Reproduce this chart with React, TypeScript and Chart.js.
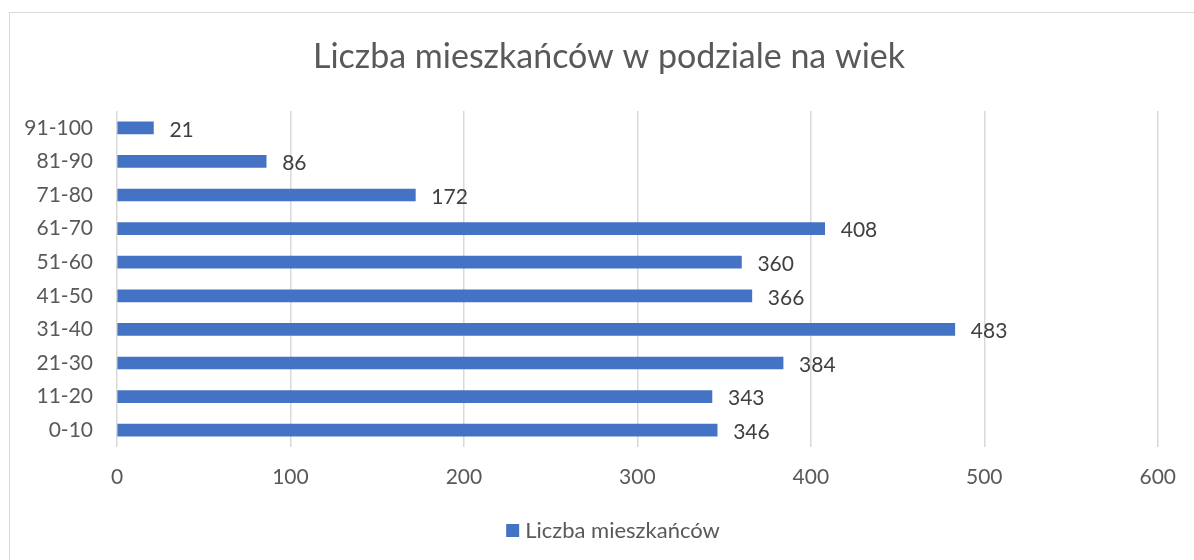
import React, { useEffect, useRef } from "react";
import { Chart, registerables } from "chart.js";

Chart.register(...registerables);

const TITLE = "Liczba mieszkańców w podziale na wiek";
const SERIES_NAME = "Liczba mieszkańców";
const AGE_GROUPS = ["0-10", "11-20", "21-30", "31-40", "41-50", "51-60", "61-70", "71-80", "81-90", "91-100"];
const RESIDENTS = [346, 343, 384, 483, 366, 360, 408, 172, 86, 21];
const X_MAX = 600;
const X_STEP = 100;

const FONT = "Lato, 'Open Sans', sans-serif";
const BAR_COLOR = "#4472C4";
const TEXT_GRAY = "#595959";
const LABEL_DARK = "#404040";

export default function App() {
  const ref = useRef<HTMLCanvasElement | null>(null);

  useEffect(() => {
    const canvas = ref.current;
    if (!canvas) return;

    const decorPlugin = {
      id: "decor",
      afterDatasetsDraw(chart: any) {
        const ctx = chart.ctx;
        const meta = chart.getDatasetMeta(0);
        ctx.save();
        ctx.font = `21px ${FONT}`;
        ctx.fillStyle = LABEL_DARK;
        ctx.textAlign = "left";
        ctx.textBaseline = "middle";
        meta.data.forEach((bar: any, i: number) => {
          ctx.fillText(String(RESIDENTS[i]), bar.x + 16, bar.y + 2);
        });
        ctx.restore();
      },
      afterDraw(chart: any) {
        const ctx = chart.ctx;
        ctx.save();
        // title
        ctx.font = `34px ${FONT}`;
        ctx.fillStyle = TEXT_GRAY;
        ctx.textAlign = "center";
        ctx.textBaseline = "middle";
        ctx.fillText(TITLE, 609, 57);
        // legend
        ctx.font = `22px ${FONT}`;
        const tw = ctx.measureText(SERIES_NAME).width;
        const box = 13;
        const gap = 6;
        const total = box + gap + tw;
        const x0 = 613 - total / 2;
        ctx.fillStyle = BAR_COLOR;
        ctx.fillRect(x0, 524, box, box);
        ctx.fillStyle = TEXT_GRAY;
        ctx.textAlign = "left";
        ctx.fillText(SERIES_NAME, x0 + box + gap, 531);
        ctx.restore();
      },
    };

    const chart = new Chart(canvas, {
      type: "bar",
      data: {
        labels: AGE_GROUPS,
        datasets: [
          {
            label: SERIES_NAME,
            data: RESIDENTS,
            backgroundColor: BAR_COLOR,
            barThickness: 12,
          },
        ],
      },
      options: {
        indexAxis: "y",
        animation: false,
        responsive: false,
        maintainAspectRatio: false,
        layout: { padding: { left: 0, top: 111, right: 34, bottom: 0 } },
        plugins: {
          legend: { display: false },
          title: { display: false },
          tooltip: { enabled: false },
        },
        scales: {
          x: {
            min: 0,
            max: X_MAX,
            ticks: {
              stepSize: X_STEP,
              color: TEXT_GRAY,
              font: { family: FONT, size: 21 },
              padding: 18,
              maxRotation: 0,
            },
            grid: { color: "#d9d9d9", lineWidth: 1.5, drawTicks: false },
            border: { display: false },
            afterFit(scale: any) {
              scale.height = 113;
            },
          },
          y: {
            reverse: true,
            ticks: {
              color: TEXT_GRAY,
              font: { family: FONT, size: 21 },
              padding: 24,
            },
            grid: { display: false, drawTicks: false },
            border: { display: false },
            afterFit(scale: any) {
              scale.width = 117;
            },
          },
        },
      },
      plugins: [decorPlugin],
    } as any);

    return () => chart.destroy();
  }, []);

  return (
    <div style={{ position: "fixed", left: 0, top: 0, width: 1194, height: 560, overflow: "hidden", background: "#fff" }}>
      <div
        style={{
          position: "absolute",
          left: 9,
          top: 12,
          width: 1300,
          height: 700,
          border: "1px solid #d9d9d9",
          boxSizing: "border-box",
        }}
      />
      <canvas ref={ref} width={1194} height={560} style={{ position: "absolute", left: 0, top: 0, display: "block" }} />
    </div>
  );
}
